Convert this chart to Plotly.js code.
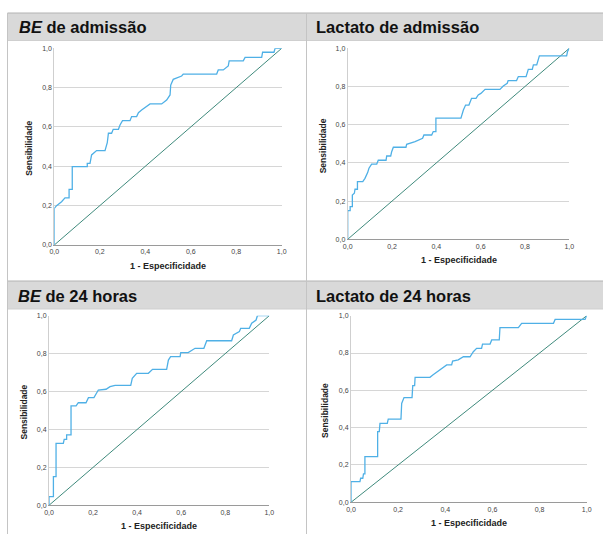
<!DOCTYPE html>
<html>
<head>
<meta charset="utf-8">
<script src="https://cdn.plot.ly/plotly-3.0.1.min.js"></script>
<style>html,body{margin:0;padding:0;background:#fff;}#chart{width:603px;height:534px;}</style>
</head>
<body>
<div id="chart"></div>
<script>
// ---- Data ----
const panelTitles = ["<b><i>BE</i> de admissão</b>", "<b>Lactato de admissão</b>", "<b><i>BE</i> de 24 horas</b>", "<b>Lactato de 24 horas</b>"];
const xAxisTitle = "1 - Especificidade";
const yAxisTitle = "Sensibilidade";
const tickVals = [0, 0.2, 0.4, 0.6, 0.8, 1.0];
const tickLabels = ["0,0", "0,2", "0,4", "0,6", "0,8", "1,0"];
const diagX = [0, 1];
const diagY = [0, 1];

const beAdmX = [0,0,0.01,0.032,0.047,0.065,0.065,0.079,0.079,0.145,0.145,0.157,0.164,0.186,0.223,0.233,0.238,0.252,0.259,0.282,0.289,0.30,0.333,0.34,0.362,0.37,0.384,0.421,0.472,0.494,0.509,0.512,0.523,0.56,0.567,0.714,0.721,0.743,0.765,0.769,0.831,0.839,0.912,0.916,0.966,0.971,1.0];
const beAdmY = [0,0.186,0.2,0.22,0.24,0.24,0.283,0.283,0.398,0.398,0.415,0.415,0.458,0.48,0.48,0.52,0.568,0.568,0.588,0.588,0.61,0.632,0.632,0.653,0.653,0.673,0.686,0.717,0.717,0.737,0.763,0.813,0.842,0.859,0.869,0.869,0.89,0.89,0.91,0.936,0.936,0.954,0.954,0.98,0.98,1.0,1.0];

const lacAdmX = [0,0,0.011,0.011,0.021,0.021,0.03,0.033,0.044,0.044,0.068,0.078,0.09,0.096,0.108,0.131,0.138,0.173,0.176,0.194,0.198,0.206,0.263,0.266,0.304,0.338,0.344,0.379,0.386,0.398,0.398,0.511,0.522,0.532,0.547,0.559,0.579,0.589,0.601,0.62,0.687,0.702,0.72,0.724,0.762,0.77,0.805,0.815,0.833,0.838,0.853,0.865,0.988,0.992,1.0];
const lacAdmY = [0,0.15,0.15,0.171,0.171,0.232,0.241,0.262,0.262,0.302,0.302,0.319,0.349,0.372,0.394,0.394,0.414,0.414,0.436,0.436,0.457,0.482,0.482,0.497,0.511,0.529,0.546,0.546,0.564,0.564,0.634,0.634,0.677,0.703,0.703,0.738,0.738,0.756,0.764,0.785,0.785,0.803,0.817,0.831,0.831,0.852,0.852,0.89,0.89,0.913,0.913,0.96,0.96,0.983,1.0];

const be24X = [0,0,0.02,0.02,0.032,0.032,0.065,0.069,0.08,0.08,0.1,0.1,0.123,0.133,0.168,0.179,0.204,0.213,0.224,0.259,0.277,0.30,0.371,0.378,0.398,0.451,0.47,0.534,0.542,0.552,0.595,0.598,0.632,0.663,0.703,0.716,0.829,0.837,0.864,0.87,0.909,0.92,0.94,0.946,1.0];
const be24Y = [0,0.046,0.046,0.151,0.151,0.327,0.327,0.348,0.348,0.371,0.371,0.524,0.524,0.541,0.541,0.568,0.568,0.585,0.608,0.612,0.626,0.633,0.633,0.67,0.696,0.696,0.717,0.717,0.766,0.784,0.784,0.805,0.805,0.828,0.828,0.868,0.868,0.898,0.916,0.933,0.933,0.96,0.977,1.0,1.0];

const lac24X = [0,0,0.038,0.041,0.05,0.053,0.059,0.059,0.113,0.113,0.12,0.123,0.154,0.158,0.212,0.215,0.225,0.259,0.262,0.27,0.272,0.335,0.347,0.368,0.385,0.406,0.427,0.431,0.455,0.477,0.505,0.519,0.533,0.554,0.558,0.59,0.597,0.629,0.632,0.71,0.724,0.859,0.866,0.993,1.0];
const lac24Y = [0,0.111,0.111,0.129,0.129,0.152,0.152,0.245,0.245,0.379,0.379,0.423,0.423,0.446,0.446,0.53,0.561,0.561,0.625,0.625,0.67,0.67,0.682,0.70,0.718,0.736,0.736,0.757,0.763,0.78,0.78,0.807,0.825,0.825,0.848,0.848,0.87,0.87,0.936,0.936,0.959,0.959,0.98,0.98,1.0];

const curvesX = [beAdmX, lacAdmX, be24X, lac24X];
const curvesY = [beAdmY, lacAdmY, be24Y, lac24Y];

// ---- Layout geometry (pixels) ----
const W = 603, H = 534;
const px = v => v / W;
const py = v => 1 - v / H;
// plot areas: [left, right, top, bottom] in px
const areas = [
  [54.3, 281.7, 48.3, 245],
  [347.7, 569.3, 48.3, 239.3],
  [49, 269.3, 315.7, 505.3],
  [351, 586.7, 315.7, 502.3]
];
const titlePos = [[17, 27], [314, 27], [16, 295.5], [314, 295.5]];
const yTitleX = [29, 322.5, 23, 325];

const curveColor = "#4fb0e6";
const diagColor = "#3f8a7c";
const fontMain = "Liberation Sans, Arial, sans-serif";

const data = [];
const layout = {
  width: W, height: H,
  margin: {l: 0, r: 0, t: 0, b: 0},
  paper_bgcolor: "#ffffff",
  plot_bgcolor: "#ffffff",
  showlegend: false,
  shapes: [],
  annotations: []
};

// panel frames & headers
const headerRows = [[13, 40.5], [281, 309]];
headerRows.forEach(([t, b]) => {
  layout.shapes.push({type: "rect", xref: "paper", yref: "paper", x0: px(7.5), x1: px(603), y0: py(b), y1: py(t),
    fillcolor: "#d9d9d9", line: {width: 0}, layer: "below"});
  layout.shapes.push({type: "line", xref: "paper", yref: "paper", x0: px(7.5), x1: px(603), y0: py(t), y1: py(t),
    line: {color: "#b3b3b3", width: 1}});
  layout.shapes.push({type: "line", xref: "paper", yref: "paper", x0: px(7.5), x1: px(603), y0: py(b), y1: py(b),
    line: {color: "#cfcfcf", width: 1}});
});
[7.5, 306.5].forEach(xv => {
  layout.shapes.push({type: "line", xref: "paper", yref: "paper", x0: px(xv), x1: px(xv), y0: py(13), y1: py(534),
    line: {color: "#c4c4c4", width: 1}});
});

areas.forEach((a, i) => {
  const n = i + 1;
  const xa = "xaxis" + (n === 1 ? "" : n);
  const ya = "yaxis" + (n === 1 ? "" : n);
  const xr = "x" + (n === 1 ? "" : n);
  const yr = "y" + (n === 1 ? "" : n);
  layout[xa] = {
    domain: [px(a[0]), px(a[1])], range: [0, 1], anchor: yr,
    tickvals: tickVals, ticktext: tickLabels, ticks: "", ticklen: 0,
    showgrid: false, zeroline: false, showline: true, linecolor: "#9a9a9a", linewidth: 1,
    tickfont: {family: fontMain, size: 7, color: "#444"}, fixedrange: true
  };
  layout[ya] = {
    domain: [py(a[3]), py(a[2])], range: [0, 1], anchor: xr,
    tickvals: tickVals, ticktext: tickLabels, ticks: "", ticklen: 0,
    showgrid: true, gridcolor: "#d6d6d6", gridwidth: 1,
    zeroline: false, showline: true, linecolor: "#cfcfcf", linewidth: 1,
    tickfont: {family: fontMain, size: 7, color: "#444"}, fixedrange: true
  };
  data.push({x: diagX, y: diagY, xaxis: xr, yaxis: yr, type: "scatter", mode: "lines",
    line: {color: diagColor, width: 1}, hoverinfo: "skip"});
  data.push({x: curvesX[i], y: curvesY[i], xaxis: xr, yaxis: yr, type: "scatter", mode: "lines",
    line: {color: curveColor, width: 1.3}, hoverinfo: "skip"});

  layout.annotations.push({text: panelTitles[i], xref: "paper", yref: "paper",
    x: px(titlePos[i][0]), y: py(titlePos[i][1]), xanchor: "left", yanchor: "middle", showarrow: false,
    font: {family: fontMain, size: 16.5, color: "#111"}});
  layout.annotations.push({text: "<b>" + xAxisTitle + "</b>", xref: "paper", yref: "paper",
    x: px((a[0] + a[1]) / 2), y: py(a[3] + 21), xanchor: "center", yanchor: "middle", showarrow: false,
    font: {family: fontMain, size: 9, color: "#222"}});
  layout.annotations.push({text: "<b>" + yAxisTitle + "</b>", xref: "paper", yref: "paper",
    x: px(yTitleX[i]), y: py((a[2] + a[3]) / 2 + 2), xanchor: "center", yanchor: "middle", showarrow: false,
    textangle: -90,
    font: {family: "Liberation Sans Narrow, Arial Narrow, Liberation Sans, Arial, sans-serif", size: 8.5, color: "#222"}});
});

Plotly.newPlot("chart", data, layout, {staticPlot: true, displayModeBar: false});
</script>
</body>
</html>
